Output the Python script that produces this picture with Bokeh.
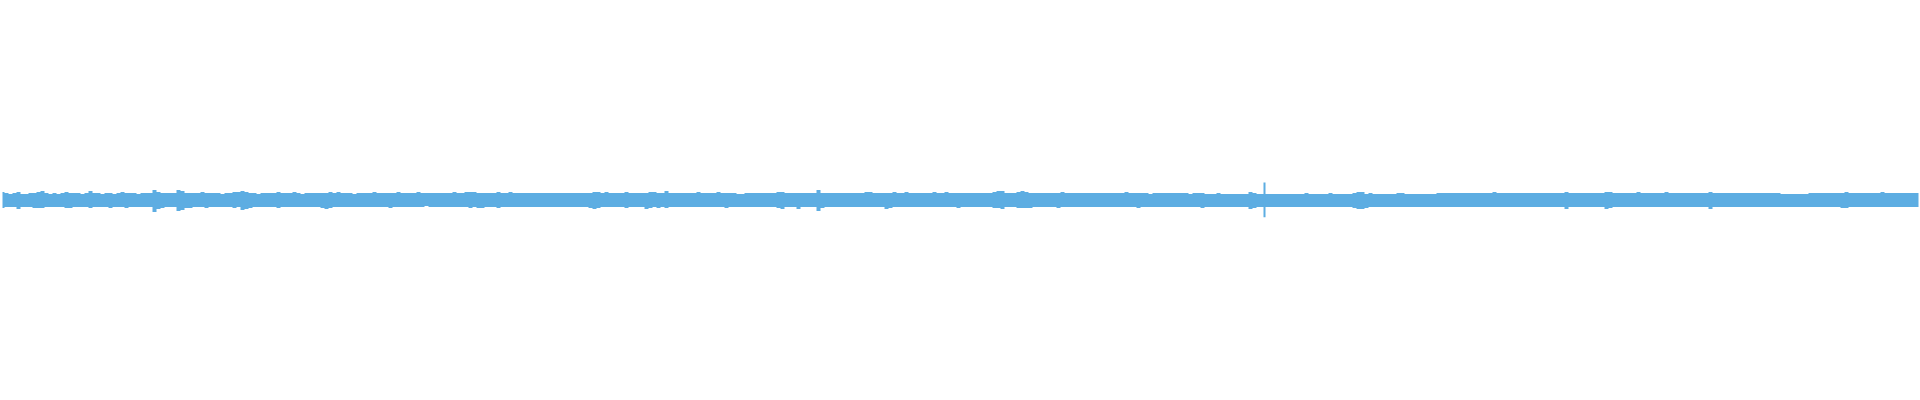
import numpy as np
from bokeh.plotting import figure
from bokeh.embed import file_html
from bokeh.resources import INLINE
from bokeh.models import Range1d, ColumnDataSource

# Envelope of the waveform, one value per 4 reference pixels (amplitude in px, base-36 digits)
top_env = (
    "8767866778" "9767678777" "6797767767" "87776777a8" "7777a97777" "8777767788"
    "9877677778" "7778767777" "7787877767" "7778777778" "7777877777" "7778778887"
    "7777877877" "7777777777" "7777777788" "7877778777" "7788779777" "7777877778"
    "7777667777" "7777887777" "7777a77777" "7777778877" "7778778777" "7778778777"
    "7777777789" "9777898777" "7777787777" "7777777777" "7877777677" "7777777677"
    "7666766666" "6687666666" "6666667666" "6676666678" "8676666667" "7666666667"
    "7777777777" "7778777777" "7777777777" "7877777777" "7887777778" "7777778777"
    "7777777877" "7777777777" "7777766666" "6677777777" "7877777777" "8777777777"
)
bottom_env = (
    "8777977788" "8777778877" "7787777877" "78777777c9" "8777ba8877" "7877777787"
    "a987777778" "7777777777" "8987777777" "7777777877" "7777776777" "7777777878"
    "8777877777" "7777777777" "7777777898" "7777778777" "7987878777" "7777777777"
    "7877777777" "7777897779" "7777b87777" "7777777777" "7987777777" "7777777778"
    "7777777788" "9777888877" "7777877777" "7777777777" "7777877777" "7777777777"
    "8777777777" "7798777777" "7777777777" "7777777789" "9877777777" "7777777777"
    "7777777777" "7777777777" "7777777777" "7977777777" "7987777777" "7777777777"
    "7777777977" "7777777777" "7777777777" "7777777777" "8877777777" "7777777777"
)
# Isolated spike
spike_x = [1264]
spike_top = [17.5]
spike_bottom = [17.2]

top = np.array([int(c, 36) for c in top_env], dtype=float)
bottom = np.array([int(c, 36) for c in bottom_env], dtype=float)
n = len(top)
x = np.arange(n) * (1920.0 / n) + (1920.0 / n) / 2

p = figure(width=1920, height=400, output_backend="svg", toolbar_location=None,
           x_range=Range1d(0, 1920), y_range=Range1d(-200.5, 199.5),
           x_axis_location=None, y_axis_location=None,
           min_border=0, background_fill_color="white", border_fill_color="white")
p.grid.visible = False
p.outline_line_color = None

color = "#5dade2"
src = ColumnDataSource(dict(x=x, y1=-bottom, y2=top))
p.varea_step(x="x", y1="y1", y2="y2", step_mode="center", source=src, fill_color=color)
p.segment(x0=spike_x, y0=[-b for b in spike_bottom], x1=spike_x, y1=spike_top,
          line_color=color, line_width=2)

open("out.html", "w").write(file_html(p, INLINE))
